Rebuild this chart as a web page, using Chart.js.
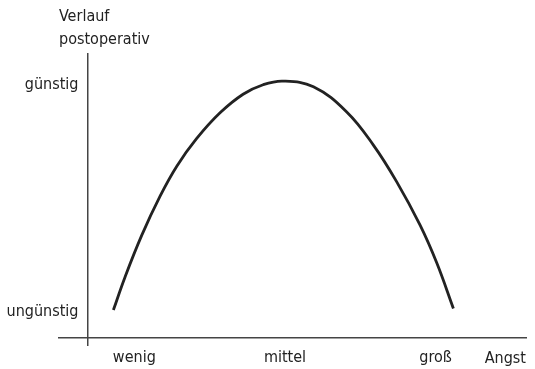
<!DOCTYPE html>
<html>
<head>
<meta charset="utf-8">
<script src="https://cdn.jsdelivr.net/npm/chart.js@4"></script>
<style>
  body { margin: 0; background: #fff; }
  #wrap { width: 535px; height: 369px; }
</style>
</head>
<body>
<div id="wrap"><canvas id="angstChart"></canvas></div>
<script>
// Angst (x) vs. postoperativer Verlauf (y)
const angstLevels = [1, 2, 3];
const angstLabels = ['wenig', 'mittel', 'groß'];
const verlaufLevels = [0, 1];
const verlaufLabels = ['ungünstig', 'günstig'];

// curve
const curveX = [0.861, 0.938, 1.049, 1.171, 1.282, 1.413, 1.569, 1.722, 1.855, 1.987,
                2.189, 2.410, 2.587, 2.742, 2.897, 3.008, 3.118];
const curveY = [0.009, 0.154, 0.338, 0.511, 0.643, 0.764, 0.878, 0.960, 1.002, 1.018,
                0.993, 0.882, 0.736, 0.574, 0.383, 0.216, 0.016];

const ink = '#222';
const axisInk = '#444';
const fontFamily = '"Liberation Sans Narrow", "DejaVu Sans Condensed", sans-serif';

Chart.defaults.font.family = fontFamily;
Chart.defaults.font.size = 16;
Chart.defaults.color = ink;

const ctx = document.getElementById('angstChart').getContext('2d');
new Chart(ctx, {
    type: 'line',
    data: {
        datasets: [{
            data: curveX.map((x, i) => ({ x: x, y: curveY[i] })),
            borderColor: ink,
            borderWidth: 2.8,
            pointRadius: 0,
            fill: false,
            tension: 0.4
        }]
    },
    options: {
        responsive: true,
        maintainAspectRatio: false,
        animation: false,
        layout: { padding: { left: 59, right: 9, top: 0, bottom: 24 } },
        plugins: {
            legend: { display: false },
            tooltip: { enabled: false },
            title: {
                display: true,
                text: ['Verlauf', 'postoperativ'],
                align: 'start',
                color: ink,
                font: { size: 16, weight: 'normal', lineHeight: 1.44 },
                padding: { top: 5.5, bottom: 2.5 }
            }
        },
        scales: {
            x: {
                type: 'linear',
                min: 0.5,
                max: 3.6,
                position: { y: -0.115 },
                grid: { display: false, drawTicks: false },
                border: { display: true, color: axisInk, width: 1.5 },
                afterBuildTicks: axis => { axis.ticks = angstLevels.map(v => ({ value: v })); },
                ticks: {
                    padding: 10,
                    maxRotation: 0,
                    callback: v => angstLabels[angstLevels.indexOf(v)]
                },
                title: {
                    display: true,
                    text: 'Angst',
                    align: 'end',
                    color: ink,
                    padding: { top: -28.6, bottom: 0 }
                }
            },
            y: {
                type: 'linear',
                min: -0.145,
                max: 1.137,
                position: { x: 0.69 },
                grid: { display: false, drawTicks: false },
                border: { display: true, color: axisInk, width: 1.5 },
                afterBuildTicks: axis => { axis.ticks = verlaufLevels.map(v => ({ value: v })); },
                ticks: {
                    // labels sit right on the axis when it is placed by value, keep a gap
                    callback: v => verlaufLabels[verlaufLevels.indexOf(v)] + '  '
                }
            }
        }
    }
});
</script>
</body>
</html>
